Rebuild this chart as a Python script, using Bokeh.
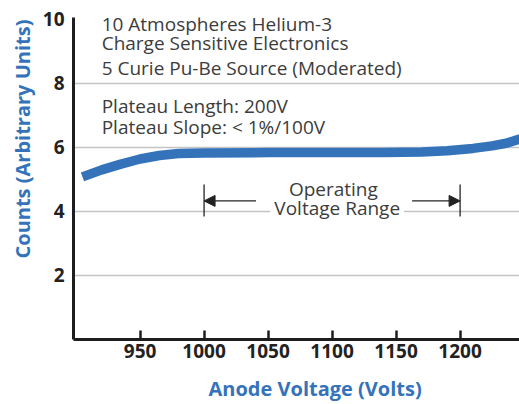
from bokeh.plotting import figure
from bokeh.models import (FixedTicker, Label, Arrow, NormalHead, Range1d,
                          ColumnDataSource, Title)
from bokeh.embed import file_html
from bokeh.resources import INLINE

# ---- data ----
voltage = [905, 920, 935, 950, 965, 980, 1000, 1050, 1100, 1140, 1170, 1190, 1210, 1225, 1236, 1247]
counts = [5.08, 5.30, 5.48, 5.64, 5.75, 5.81, 5.83, 5.84, 5.84, 5.84, 5.86, 5.90, 5.97, 6.05, 6.13, 6.27]
x_ticks = [950, 1000, 1050, 1100, 1150, 1200]
y_ticks = [2, 4, 6, 8, 10]
y_grid = [2, 4, 6, 8]
range_bounds = [1000, 1200]
info_lines = ["10 Atmospheres Helium-3",
              "Charge Sensitive Electronics",
              "5 Curie Pu-Be Source (Moderated)",
              "Plateau Length: 200V",
              "Plateau Slope: < 1%/100V"]
info_y = [9.87, 9.25, 8.47, 7.31, 6.65]

BLUE = "#3473ba"
TXT = "#3c3c3c"
FONT = "Open Sans"

p = figure(frame_width=446, frame_height=322,
           x_range=Range1d(898, 1246.4), y_range=Range1d(0, 10.06),
           output_backend="svg", toolbar_location=None,
           min_border_left=73, min_border_right=0,
           min_border_top=17, min_border_bottom=65)
p.outline_line_color = None
p.background_fill_color = "white"

# axes
p.xaxis.ticker = FixedTicker(ticks=x_ticks)
p.yaxis.ticker = FixedTicker(ticks=y_ticks)
for ax in (p.xaxis[0], p.yaxis[0]):
    ax.axis_line_color = "#1e1e1e"
    ax.axis_line_width = 3
    ax.major_label_text_font = FONT
    ax.major_label_text_font_style = "bold"
    ax.major_label_text_font_size = "19px"
    ax.major_label_text_color = "#222222"
    ax.minor_tick_line_color = None
p.xaxis.major_tick_in = 9
p.xaxis.major_tick_out = 0
p.xaxis.major_tick_line_width = 2.5
p.xaxis.major_tick_line_color = "#1e1e1e"
p.xaxis.major_label_standoff = 4
p.yaxis.major_tick_line_color = None
p.yaxis.major_label_standoff = 3

p.xgrid.grid_line_color = None
p.ygrid.ticker = FixedTicker(ticks=y_grid)
p.ygrid.grid_line_color = "#c4c4c4"
p.ygrid.grid_line_width = 1.5

# axis titles
p.add_layout(Title(text="Counts (Arbitrary Units)", align="left", offset=81,
                   text_font=FONT, text_font_style="bold", text_font_size="20px",
                   text_color=BLUE, standoff=8), "left")
p.add_layout(Title(text="Anode Voltage (Volts)", align="left", offset=135,
                   text_font=FONT, text_font_style="bold", text_font_size="20px",
                   text_color=BLUE, standoff=24), "below")

# curve
src = ColumnDataSource(dict(v=voltage, c=counts))
p.line("v", "c", source=src, line_color=BLUE, line_width=9.5, line_cap="butt")

# info text
for t, yy in zip(info_lines, info_y):
    p.add_layout(Label(x=920, y=yy, text=t, text_font=FONT, text_font_size="19px",
                       text_color=TXT, text_baseline="alphabetic", text_align="left"))

# operating range
lo, hi = range_bounds
p.segment(x0=[lo, hi], y0=[3.84, 3.84], x1=[lo, hi], y1=[4.84, 4.84],
          line_color="#222222", line_width=1.3)
p.add_layout(Arrow(x_start=lo + 40.6, y_start=4.33, x_end=lo, y_end=4.33,
                   line_width=1.3, line_color="#222222",
                   end=NormalHead(size=11, fill_color="#222222", line_color="#222222")))
p.add_layout(Arrow(x_start=hi - 37.5, y_start=4.33, x_end=hi, y_end=4.33,
                   line_width=1.3, line_color="#222222",
                   end=NormalHead(size=11, fill_color="#222222", line_color="#222222")))
p.add_layout(Label(x=1104, y=4.1, text="Voltage Range", text_font=FONT,
                   text_font_size="19px", text_color=TXT,
                   text_align="center", text_baseline="middle",
                   background_fill_color="white", padding=(4, 0)))
p.add_layout(Label(x=1101, y=4.7, text="Operating", text_font=FONT,
                   text_font_size="19px", text_color=TXT,
                   text_align="center", text_baseline="middle"))

open("out.html", "w").write(file_html(p, INLINE))
